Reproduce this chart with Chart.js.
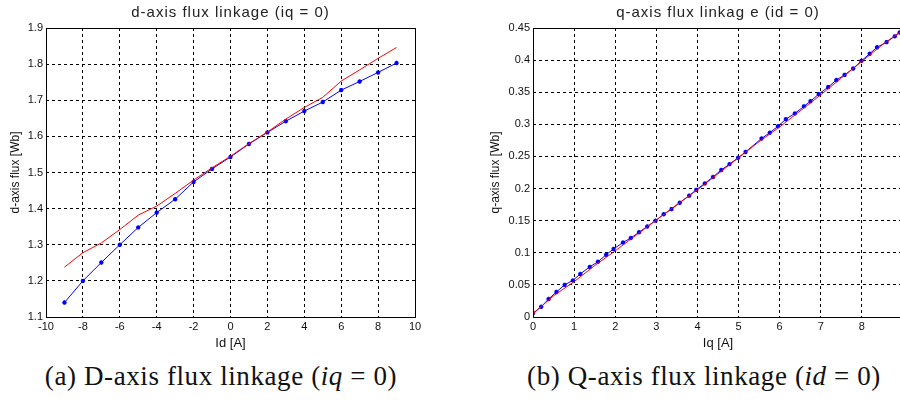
<!DOCTYPE html>
<html>
<head>
<meta charset="utf-8">
<script src="https://cdn.jsdelivr.net/npm/chart.js@4"></script>
<style>
  html, body { margin: 0; padding: 0; background: #fff; }
  #wrap { position: relative; width: 900px; height: 407px; overflow: hidden; }
  #leftBox { position: absolute; left: 0; top: 0; width: 430px; height: 355px; }
  #rightBox { position: absolute; left: 450px; top: 0; width: 460px; height: 355px; }
  .cap { position: absolute; top: 361px; font-family: "Liberation Serif", "DejaVu Serif", serif; font-size: 27px; letter-spacing: 0.6px; color: #111; white-space: nowrap; transform: translateX(-50%); }
</style>
</head>
<body>
<div id="wrap">
  <div id="leftBox"><canvas id="dChart" width="430" height="355"></canvas></div>
  <div id="rightBox"><canvas id="qChart" width="460" height="355"></canvas></div>
  <div class="cap" style="left:221px">(a) D-axis flux linkage (<i>iq</i> = 0)</div>
  <div class="cap" style="left:704px">(b) Q-axis flux linkage (<i>id</i> = 0)</div>
</div>
<script>
// d-axis: measured (blue) and model (red), iq = 0
const idCurrent = [-9, -8, -7, -6, -5, -4, -3, -2, -1, 0, 1, 2, 3, 4, 5, 6, 7, 8, 9];
const dFluxMeasured = [1.14, 1.20, 1.251, 1.30, 1.348, 1.389, 1.426, 1.474, 1.51, 1.543, 1.579, 1.611, 1.642, 1.67, 1.695, 1.728, 1.752, 1.777, 1.803];
const dFluxModel = [1.238, 1.278, 1.305, 1.342, 1.382, 1.407, 1.442, 1.479, 1.513, 1.545, 1.58, 1.612, 1.648, 1.68, 1.708, 1.753, 1.784, 1.816, 1.846];

// q-axis: measured (blue) and model (red), id = 0
const iqMeasured = [0, 0.2, 0.38, 0.57, 0.77, 0.97, 1.15, 1.38, 1.58, 1.78, 1.96, 2.19, 2.38, 2.58, 2.78, 2.98, 3.18, 3.37, 3.57, 3.8, 3.97, 4.18, 4.38, 4.58, 4.78, 4.99, 5.17, 5.56, 5.76, 5.96, 6.15, 6.37, 6.59, 6.75, 6.95, 7.18, 7.38, 7.58, 7.79, 7.99, 8.19, 8.37, 8.6, 8.8, 8.92];
const qFluxMeasured = [0.006, 0.016, 0.028, 0.039, 0.05, 0.057, 0.067, 0.078, 0.086, 0.097, 0.106, 0.116, 0.123, 0.132, 0.141, 0.15, 0.16, 0.168, 0.178, 0.189, 0.198, 0.208, 0.218, 0.229, 0.238, 0.248, 0.257, 0.278, 0.287, 0.297, 0.308, 0.317, 0.328, 0.336, 0.347, 0.358, 0.369, 0.377, 0.387, 0.399, 0.41, 0.42, 0.428, 0.437, 0.443];
const iqModel = [0, 0.5, 1, 1.5, 2, 2.5, 3, 3.5, 4, 4.5, 5, 5.5, 6, 6.5, 7, 7.5, 8, 8.5, 9];
const qFluxModel = [0.005, 0.033, 0.055, 0.08, 0.103, 0.127, 0.151, 0.175, 0.198, 0.223, 0.248, 0.273, 0.296, 0.321, 0.346, 0.372, 0.398, 0.424, 0.447];

const dTitle = 'd-axis flux linkage (iq = 0)';
const qTitle = 'q-axis flux linkag e (id = 0)';

const toPoints = (xs, ys) => xs.map((x, i) => ({ x, y: ys[i] }));

// title centered over the plot box + solid frame around it
const framePlugin = {
  id: 'frame',
  afterDraw(chart, args, opts) {
    const { ctx, chartArea: a } = chart;
    ctx.save();
    ctx.strokeStyle = '#000';
    ctx.lineWidth = 1;
    ctx.setLineDash([]);
    ctx.strokeRect(a.left + 0.5, a.top + 0.5, a.right - a.left, a.bottom - a.top);
    ctx.fillStyle = '#222';
    ctx.font = '15px "Liberation Sans", Arial, sans-serif';
    ctx.letterSpacing = '1px';
    ctx.textAlign = 'center';
    ctx.textBaseline = 'middle';
    ctx.fillText(opts.text, (a.left + a.right) / 2, 13);
    ctx.restore();
  }
};

const tickFont = { family: '"Liberation Sans", Arial, sans-serif', size: 11 };
const titleFont = { family: '"Liberation Sans", Arial, sans-serif', size: 12 };
const gridStyle = { color: '#000', lineWidth: 1, drawTicks: false };

function makeChart(id, cfg) {
  return new Chart(document.getElementById(id).getContext('2d'), {
    type: 'line',
    data: {
      datasets: [{
        data: cfg.model,
        borderColor: '#ff0000',
        borderWidth: 1,
        pointRadius: 0,
        tension: 0,
        order: 0
      }, {
        data: cfg.measured,
        borderColor: '#0000ff',
        backgroundColor: '#0000ff',
        borderWidth: 1,
        pointStyle: 'star',
        pointRadius: 2.2,
        pointBorderWidth: 1.3,
        pointBorderColor: '#0000ff',
        tension: 0,
        order: 1
      }]
    },
    options: {
      responsive: false,
      animation: false,
      layout: { padding: { top: 28, right: cfg.padRight, left: 0, bottom: 0 } },
      plugins: {
        legend: { display: false },
        tooltip: { enabled: false },
        frame: { text: cfg.title }
      },
      scales: {
        x: {
          type: 'linear',
          min: cfg.xMin, max: cfg.xMax,
          ticks: {
            stepSize: cfg.xStep, color: '#111', font: tickFont, padding: 3,
            callback: v => (cfg.hideX9 && v === 9) ? '' : String(v)
          },
          grid: { ...gridStyle },
          border: { display: false, dash: [3, 3] },
          title: { display: true, text: cfg.xTitle, color: '#111', font: { ...titleFont, size: 13 }, padding: { top: 0, bottom: 4 } },
          afterFit: s => { s.height = 38; }
        },
        y: {
          min: cfg.yMin, max: cfg.yMax,
          ticks: { stepSize: cfg.yStep, color: '#111', font: tickFont, padding: 3, callback: cfg.yFmt },
          grid: { ...gridStyle },
          border: { display: false, dash: [3, 3] },
          title: { display: true, text: cfg.yTitle, color: '#111', font: titleFont, padding: { top: cfg.yTitlePad, bottom: 0 } },
          afterFit: s => { s.width = cfg.yWidth; }
        }
      }
    },
    plugins: [framePlugin]
  });
}

const dChart = makeChart('dChart', {
  title: dTitle,
  measured: toPoints(idCurrent, dFluxMeasured),
  model: toPoints(idCurrent, dFluxModel),
  xMin: -10, xMax: 10, xStep: 2,
  yMin: 1.1, yMax: 1.9, yStep: 0.1,
  yFmt: v => v.toFixed(1),
  xTitle: 'Id [A]', yTitle: 'd-axis flux [Wb]',
  yWidth: 46, yTitlePad: 8, padRight: 15
});

const qChart = makeChart('qChart', {
  title: qTitle,
  measured: toPoints(iqMeasured, qFluxMeasured),
  model: toPoints(iqModel, qFluxModel),
  xMin: 0, xMax: 9, xStep: 1, hideX9: true,
  yMin: 0, yMax: 0.45, yStep: 0.05,
  yFmt: v => String(+v.toFixed(2)),
  xTitle: 'Iq [A]', yTitle: 'q-axis flux [Wb]',
  yWidth: 83, yTitlePad: 38, padRight: 7
});

// dashed grid lines like the original
[dChart, qChart].forEach(c => {
  c.options.scales.x.grid.borderDash = [3, 3];
  c.options.scales.y.grid.borderDash = [3, 3];
  c.update();
});
</script>
</body>
</html>
